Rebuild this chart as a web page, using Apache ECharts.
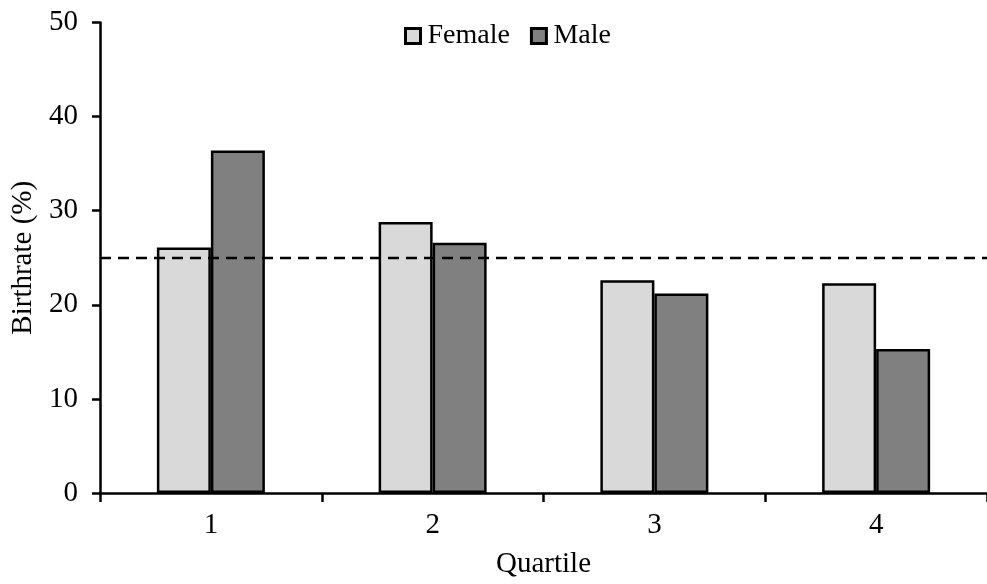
<!DOCTYPE html>
<html>
<head>
<meta charset="utf-8">
<script src="https://cdn.jsdelivr.net/npm/echarts@6/dist/echarts.min.js"></script>
<style>
html,body{margin:0;padding:0;background:#fff;overflow:hidden;}
#chart{width:987px;height:584px;}
</style>
</head>
<body>
<div id="chart"></div>
<script>
const categories = ['1', '2', '3', '4'];
const female = [26.1, 28.8, 22.6, 22.3];
const male = [36.4, 26.6, 21.2, 15.3];
const referenceLine = 25;
const yTicks = { min: 0, max: 50, interval: 10 };

const FONT = '"Liberation Serif", "Times New Roman", serif';
const chart = echarts.init(document.getElementById('chart'), null, { renderer: 'canvas' });

chart.setOption({
  animation: false,
  backgroundColor: '#ffffff',
  textStyle: { fontFamily: FONT, color: '#000' },
  legend: {
    data: ['Female', 'Male'],
    left: 399,
    top: 17,
    itemWidth: 15,
    itemHeight: 15,
    itemGap: 20,
    icon: 'rect',
    itemStyle: { borderColor: '#000', borderWidth: 3 },
    textStyle: { fontFamily: FONT, fontSize: 28, color: '#000', padding: [0, 0, 0, 2] }
  },
  grid: { left: 100, top: 22.5, width: 898, bottom: 86.5 },
  xAxis: {
    type: 'category',
    data: categories,
    name: 'Quartile',
    nameLocation: 'middle',
    nameGap: 57,
    nameTextStyle: { fontFamily: FONT, fontSize: 29, color: '#000' },
    axisLine: { lineStyle: { color: '#000', width: 2.5 } },
    axisTick: { show: true, length: 9, lineStyle: { color: '#000', width: 2.5 } },
    axisLabel: { fontFamily: FONT, fontSize: 29, color: '#000', margin: 18 },
    splitLine: { show: false }
  },
  yAxis: {
    type: 'value',
    min: yTicks.min,
    max: yTicks.max,
    interval: yTicks.interval,
    name: 'Birthrate (%)',
    nameLocation: 'middle',
    nameGap: 60,
    nameTextStyle: { fontFamily: FONT, fontSize: 29, color: '#000' },
    axisLine: { show: true, lineStyle: { color: '#000', width: 2.5 } },
    axisTick: { show: true, length: 8, lineStyle: { color: '#000', width: 2.5 } },
    axisLabel: { fontFamily: FONT, fontSize: 29, color: '#000', margin: 22 },
    splitLine: { show: false }
  },
  series: [
    {
      name: 'Female',
      type: 'bar',
      data: female,
      barWidth: 54,
      barGap: '0%',
      itemStyle: { color: '#d9d9d9', borderColor: '#000', borderWidth: 2.5 },
      markLine: {
        silent: true,
        symbol: ['none', 'none'],
        label: { show: false },
        lineStyle: { color: '#000', width: 2.3, type: [11, 7] },
        data: [{ yAxis: referenceLine }]
      }
    },
    {
      name: 'Male',
      type: 'bar',
      data: male,
      barWidth: 54,
      barGap: '0%',
      itemStyle: { color: '#808080', borderColor: '#000', borderWidth: 2.5 }
    }
  ]
});
</script>
</body>
</html>
